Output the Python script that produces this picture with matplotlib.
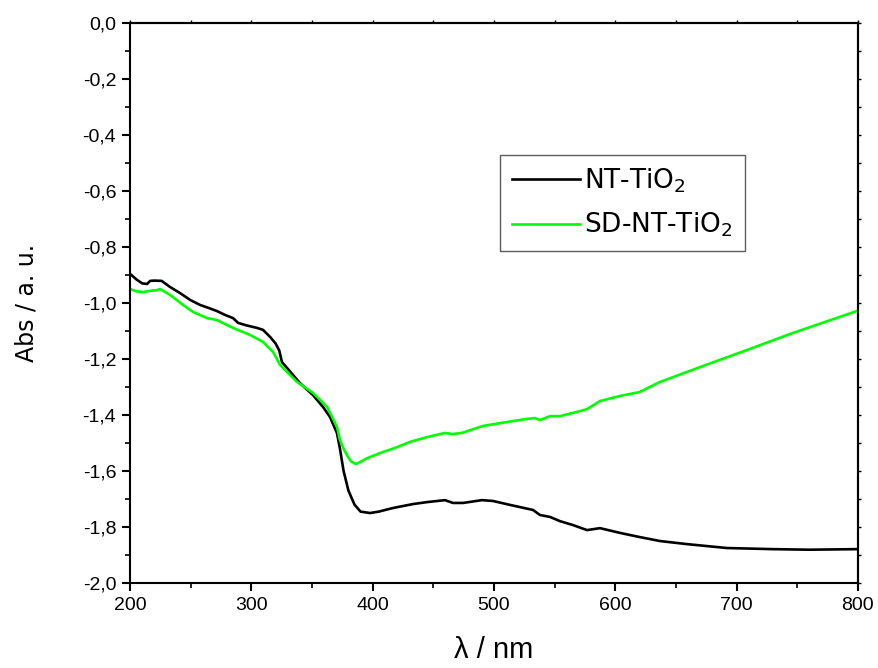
import matplotlib
matplotlib.use("Agg")
import matplotlib.pyplot as plt
from matplotlib.ticker import MultipleLocator, FuncFormatter

# absorbance spectra, wavelength in nm
nt_wl = [200, 205, 210, 214, 216.5, 220, 226, 233, 241, 249.5, 257.7, 265, 271.7,
         278, 284.9, 289, 296, 304.7, 309.6, 315.4, 320, 323, 325.2, 329.4, 340, 350.8,
         359, 364.8, 370.5, 373, 376, 380, 385, 390, 397.8, 405, 416.8, 433.2,
         444.8, 459.6, 466.2, 474.5, 490.1, 499.2, 513.2, 532.1, 537.9, 546.2,
         554.4, 565.1, 576.7, 587.4, 603.9, 620.3, 636.8, 659, 692, 730, 760, 799]
nt_abs = [-0.896, -0.915, -0.93, -0.932, -0.921, -0.92, -0.921, -0.943, -0.964,
          -0.989, -1.007, -1.018, -1.029, -1.042, -1.054, -1.071, -1.08, -1.089,
          -1.096, -1.121, -1.145, -1.17, -1.211, -1.232, -1.286, -1.329, -1.371, -1.407,
          -1.464, -1.52, -1.60, -1.67, -1.72, -1.745, -1.75, -1.745, -1.732,
          -1.718, -1.711, -1.704, -1.714, -1.714, -1.704, -1.707, -1.721, -1.739,
          -1.757, -1.764, -1.779, -1.793, -1.811, -1.804, -1.821, -1.836, -1.85,
          -1.861, -1.875, -1.879, -1.881, -1.879]

sd_wl = [200, 205, 210.7, 216, 222.3, 224.7, 233, 243.7, 251.9, 263.5, 271.7,
         284.9, 298.9, 309.6, 317.9, 323.6, 337.6, 350.8, 362.4, 370.6, 373, 376,
         379, 382, 386, 389.6, 395, 406, 420, 430.8, 444.8, 459.6, 465.4, 473.6,
         490.9, 510.7, 527.2, 533.8, 537.9, 546.2, 554.4, 570.9, 576.7, 587.4,
         603.9, 620, 636.8, 672.3, 708.5, 746.4, 799]
sd_abs = [-0.95, -0.958, -0.961, -0.957, -0.954, -0.95, -0.971, -1.007, -1.032,
          -1.054, -1.061, -1.089, -1.114, -1.139, -1.175, -1.221, -1.282, -1.321,
          -1.371, -1.443, -1.489, -1.52, -1.545, -1.565, -1.575, -1.568, -1.555,
          -1.536, -1.515, -1.496, -1.479, -1.464, -1.468, -1.464, -1.439, -1.425,
          -1.414, -1.411, -1.418, -1.404, -1.404, -1.386, -1.379, -1.35, -1.332,
          -1.318, -1.282, -1.225, -1.168, -1.107, -1.029]

xticks = [200, 300, 400, 500, 600, 700, 800]

plt.rcParams['font.family'] = ['Liberation Sans', 'DejaVu Sans']

fig = plt.figure(figsize=(8.79, 6.68), dpi=100)
ax = fig.add_axes([0.148, 0.1272, 0.828, 0.8384])

ax.plot(nt_wl, nt_abs, color='black', lw=1.9, label=r'NT-TiO$_2$')
ax.plot(sd_wl, sd_abs, color='#00ff00', lw=1.9, label=r'SD-NT-TiO$_2$')

ax.set_xlim(200, 800)
ax.set_ylim(-2.0, 0.0)
ax.set_xticks(xticks)
ax.xaxis.set_minor_locator(MultipleLocator(50))
ax.yaxis.set_major_locator(MultipleLocator(0.2))
ax.yaxis.set_minor_locator(MultipleLocator(0.1))
ax.yaxis.set_major_formatter(FuncFormatter(lambda v, p: f"{v:.1f}".replace('.', ',').replace('-0,0', '0,0')))

for s in ax.spines.values():
    s.set_linewidth(1.5)
ax.tick_params(which='major', direction='out', length=6, width=1.5, labelsize=14, pad=4)
ax.tick_params(which='minor', direction='out', length=3.5, width=1.2)

# small ticks on the opposite sides
top = ax.secondary_xaxis('top')
top.set_xticks(range(200, 801, 50))
top.tick_params(direction='out', length=2, width=1, labeltop=False)
top.spines['top'].set_linewidth(1.5)
right = ax.secondary_yaxis('right')
right.set_yticks([-2.0 + 0.1 * i for i in range(21)])
right.tick_params(direction='out', length=2, width=1, labelright=False)
right.spines['right'].set_linewidth(1.5)

ax.set_xlabel('λ / nm', fontsize=21, labelpad=16)
ax.set_ylabel('Abs / a. u.', fontsize=17, family='DejaVu Sans', labelpad=32)

leg = ax.legend(loc='upper left', bbox_to_anchor=(0.508, 0.765),
                prop={'family': 'DejaVu Sans', 'size': 19}, frameon=True,
                fancybox=False, edgecolor='#333333', handlelength=2.6,
                handletextpad=0.15, borderpad=0.45, labelspacing=0.6,
                borderaxespad=0)
leg.get_frame().set_linewidth(1.0)

fig.savefig('out.png', dpi=100)
